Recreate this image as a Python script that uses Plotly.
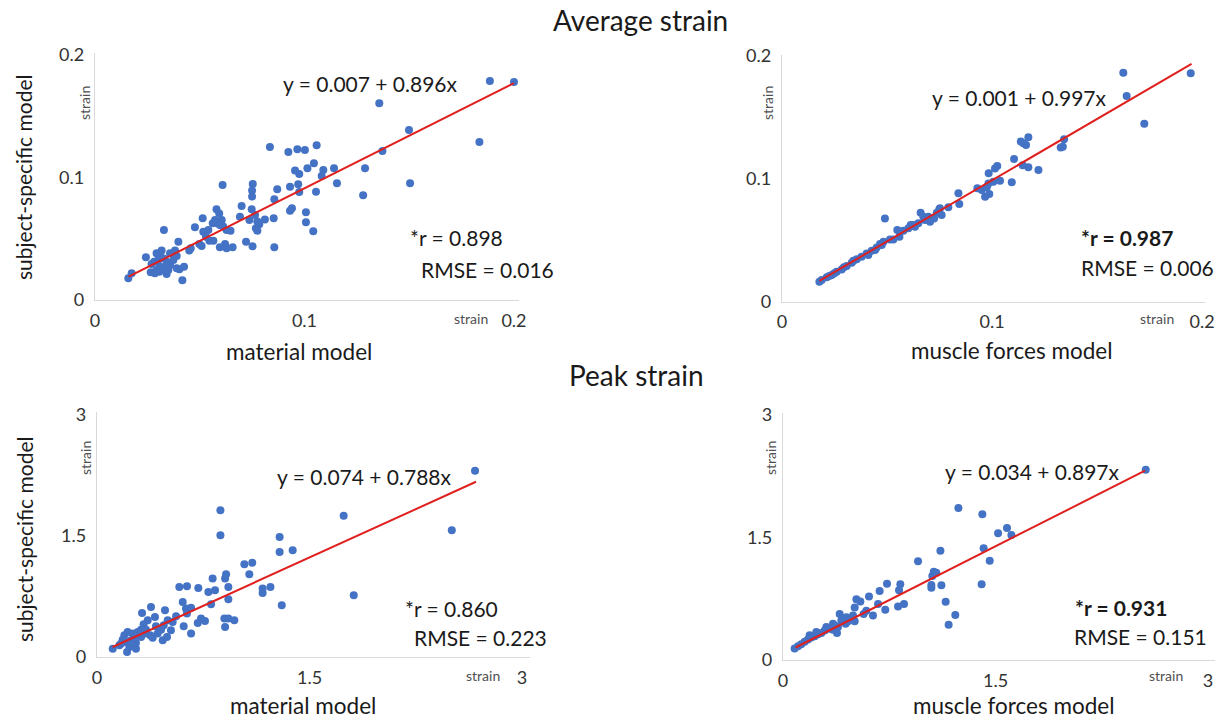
import plotly.graph_objects as go

W, H = 1229, 719

# ---------------- data ----------------
# Panel 1: Average strain, material model (x) vs subject-specific (y)
avg_mat_x = [0.1885, 0.2, 0.1357, 0.1499, 0.1835, 0.1372, 0.1289, 0.1504, 0.128, 0.0835, 0.0923, 0.0966,
             0.1002, 0.1058, 0.0955, 0.0975, 0.1014, 0.1045, 0.109, 0.1082, 0.1141, 0.1155, 0.1055, 0.0931,
             0.097, 0.0975, 0.087, 0.0931, 0.094, 0.1007, 0.1007, 0.1042, 0.0856, 0.0753, 0.075, 0.075, 0.07,
             0.0692, 0.0737, 0.0748, 0.0764, 0.0775, 0.0784, 0.0768, 0.0775, 0.0811, 0.0853, 0.0721, 0.0752,
             0.0856, 0.0609, 0.058, 0.0593, 0.0573, 0.0605, 0.0584, 0.0562, 0.0612, 0.0628, 0.0647, 0.0596,
             0.0541, 0.0517, 0.053, 0.0546, 0.0565, 0.0596, 0.0621, 0.0628, 0.0657, 0.0514, 0.0477, 0.0498,
             0.0509, 0.0457, 0.045, 0.0398, 0.0382, 0.039, 0.0358, 0.0329, 0.0403, 0.039, 0.0425, 0.0417,
             0.0342, 0.0243, 0.027, 0.0266, 0.0294, 0.031, 0.0302, 0.0318, 0.031, 0.0326, 0.0342, 0.0358,
             0.0326, 0.0286, 0.0307, 0.035, 0.0282, 0.0294, 0.0175, 0.0159, 0.0374, 0.0334]
avg_mat_y = [0.1788, 0.178, 0.1605, 0.1388, 0.129, 0.1216, 0.1075, 0.0952, 0.0854, 0.1249, 0.1208, 0.123,
             0.1224, 0.1263, 0.1056, 0.1029, 0.1075, 0.1116, 0.1061, 0.1012, 0.1075, 0.0952, 0.0884, 0.0925,
             0.0944, 0.0882, 0.0903, 0.0729, 0.0748, 0.0716, 0.0634, 0.0561, 0.0822, 0.0947, 0.0893, 0.0844,
             0.0767, 0.068, 0.0653, 0.074, 0.0694, 0.064, 0.0618, 0.0585, 0.0566, 0.0658, 0.0667, 0.0476,
             0.0438, 0.043, 0.0939, 0.074, 0.0707, 0.0653, 0.0653, 0.0626, 0.0626, 0.0599, 0.0571, 0.0566,
             0.0612, 0.0571, 0.0558, 0.0517, 0.0484, 0.0484, 0.043, 0.0457, 0.0422, 0.043, 0.0667, 0.0593,
             0.0457, 0.0441, 0.0422, 0.0403, 0.0476, 0.0403, 0.0359, 0.0381, 0.0571, 0.025, 0.0259, 0.0272,
             0.0161, 0.0212, 0.0348, 0.0294, 0.0226, 0.0245, 0.0272, 0.0327, 0.0403, 0.0367, 0.034, 0.0313,
             0.0286, 0.0245, 0.0218, 0.0231, 0.0245, 0.0313, 0.0381, 0.0218, 0.0177, 0.0327, 0.0272]

# Panel 2: Average strain, muscle forces model (x) vs subject-specific (y)
avg_mus_x = [0.1625, 0.1641, 0.1946, 0.1725, 0.1337, 0.1343, 0.1327, 0.1137, 0.1162, 0.1173, 0.1149, 0.1105,
             0.1146, 0.1173, 0.1221, 0.1094, 0.1025, 0.1014, 0.0984, 0.1038, 0.1006, 0.0983, 0.0975, 0.093,
             0.0951, 0.0987, 0.0967, 0.084, 0.0844, 0.0792, 0.0749, 0.0737, 0.076, 0.0724, 0.0705, 0.066,
             0.0673, 0.0681, 0.0649, 0.0633, 0.0613, 0.0602, 0.0578, 0.0549, 0.0562, 0.049, 0.0559, 0.053,
             0.0483, 0.0467, 0.0451, 0.0427, 0.0403, 0.0379, 0.0356, 0.0332, 0.0308, 0.0284, 0.026, 0.0237,
             0.0213, 0.0189, 0.0178, 0.0443, 0.0411, 0.034, 0.0295, 0.0249, 0.0225, 0.0475, 0.0514, 0.0625,
             0.0697, 0.0752]
avg_mus_y = [0.1864, 0.1674, 0.1859, 0.1449, 0.1262, 0.1322, 0.1256, 0.1303, 0.1275, 0.1338, 0.1289, 0.1161,
             0.111, 0.1094, 0.1072, 0.0972, 0.1104, 0.1085, 0.1045, 0.0985, 0.0977, 0.0963, 0.0931, 0.0923,
             0.0909, 0.0877, 0.0855, 0.0882, 0.0795, 0.0768, 0.0752, 0.0725, 0.0706, 0.0678, 0.0651, 0.0725,
             0.0692, 0.0665, 0.0638, 0.0611, 0.0624, 0.0597, 0.0578, 0.0583, 0.057, 0.0678, 0.0529, 0.0507,
             0.0488, 0.0469, 0.0442, 0.0415, 0.0393, 0.0366, 0.0345, 0.0318, 0.029, 0.0263, 0.0244, 0.0217,
             0.0198, 0.0176, 0.0163, 0.0421, 0.038, 0.0334, 0.028, 0.0231, 0.0209, 0.0461, 0.0507, 0.0624,
             0.0692, 0.076]

# Panel 3: Peak strain, material model (x) vs subject-specific (y)
peak_mat_x = [2.668, 2.504, 1.741, 1.812, 0.871, 0.871, 1.289, 1.289, 1.381, 1.304, 1.04, 1.096, 1.075, 1.169,
              1.224, 1.169, 0.911, 0.904, 0.816, 0.927, 0.927, 0.833, 0.786, 0.715, 0.635, 0.581, 0.605, 0.805,
              0.899, 0.927, 0.969, 0.904, 0.734, 0.762, 0.711, 0.664, 0.628, 0.664, 0.635, 0.612, 0.558, 0.534,
              0.48, 0.499, 0.471, 0.452, 0.428, 0.464, 0.494, 0.522, 0.409, 0.381, 0.318, 0.358, 0.329, 0.311,
              0.346, 0.376, 0.393, 0.311, 0.339, 0.287, 0.252, 0.216, 0.193, 0.181, 0.205, 0.228, 0.275, 0.212,
              0.158, 0.111, 0.24, 0.264, 0.169, 0.416, 0.275]
peak_mat_y = [2.309, 1.572, 1.75, 0.765, 1.82, 1.51, 1.489, 1.303, 1.324, 0.641, 1.15, 1.167, 1.026, 0.848,
              0.869, 0.794, 1.026, 0.972, 0.972, 0.869, 0.716, 0.827, 0.807, 0.856, 0.877, 0.869, 0.683, 0.654,
              0.476, 0.476, 0.455, 0.372, 0.476, 0.447, 0.422, 0.29, 0.6, 0.612, 0.538, 0.381, 0.505, 0.434,
              0.579, 0.455, 0.393, 0.339, 0.29, 0.207, 0.248, 0.331, 0.496, 0.621, 0.546, 0.455, 0.405, 0.339,
              0.339, 0.269, 0.24, 0.248, 0.29, 0.31, 0.29, 0.31, 0.269, 0.215, 0.186, 0.124, 0.103, 0.062,
              0.145, 0.103, 0.207, 0.248, 0.165, 0.381, 0.174]

# Panel 4: Peak strain, muscle forces model (x) vs subject-specific (y)
peak_mus_x = [2.56, 1.238, 1.407, 1.581, 1.518, 1.612, 1.416, 1.459, 1.402, 1.111, 0.953, 1.064, 1.082, 1.054,
              1.047, 1.047, 1.118, 1.148, 1.216, 1.169, 0.828, 0.819, 0.734, 0.682, 0.671, 0.607, 0.518, 0.546,
              0.722, 0.812, 0.854, 0.635, 0.569, 0.588, 0.506, 0.494, 0.506, 0.447, 0.4, 0.412, 0.442, 0.388,
              0.353, 0.381, 0.329, 0.294, 0.271, 0.247, 0.224, 0.2, 0.176, 0.153, 0.129, 0.106, 0.082, 0.306,
              0.235, 0.188, 0.353, 0.459, 0.365]
peak_mus_y = [2.328, 1.861, 1.784, 1.615, 1.551, 1.531, 1.369, 1.216, 0.926, 1.337, 1.208, 1.079, 1.067, 1.027,
              0.918, 0.886, 0.914, 0.713, 0.552, 0.431, 0.926, 0.854, 0.934, 0.846, 0.685, 0.777, 0.745, 0.717,
              0.616, 0.656, 0.685, 0.544, 0.564, 0.604, 0.644, 0.544, 0.475, 0.524, 0.564, 0.483, 0.443, 0.403,
              0.443, 0.33, 0.383, 0.362, 0.33, 0.314, 0.29, 0.274, 0.25, 0.222, 0.193, 0.169, 0.141, 0.403,
              0.342, 0.302, 0.371, 0.475, 0.423]

# Trend lines (visible end points)
trend_avg_mat_x = [0.016, 0.2]
trend_avg_mat_y = [0.019, 0.177]
trend_avg_mus_x = [0.0178, 0.195]
trend_avg_mus_y = [0.017, 0.1935]
trend_peak_mat_x = [0.11, 2.675]
trend_peak_mat_y = [0.124, 2.172]
trend_peak_mus_x = [0.089, 2.555]
trend_peak_mus_y = [0.153, 2.318]

avg_ticks = [0, 0.1, 0.2]
avg_ticktext = ["0", "0.1", "0.2"]
peak_ticks = [0, 1.5, 3]
peak_ticktext = ["0", "1.5", "3"]

equations = ["y = 0.007 + 0.896x", "y = 0.001 + 0.997x", "y = 0.074 + 0.788x", "y = 0.034 + 0.897x"]
r_texts = ["*r = 0.898", "<b>*r = 0.987</b>", "*r = 0.860", "<b>*r = 0.931</b>"]
rmse_texts = ["RMSE = 0.016", "RMSE = 0.006", "RMSE = 0.223", "RMSE = 0.151"]
x_titles = ["material model", "muscle forces model", "material model", "muscle forces model"]
y_title = "subject-specific model"
section_titles = ["Average strain", "Peak strain"]

# ---------------- style ----------------
FONT = "Lato"
BLUE = "#4472C4"
RED = "#E0201E"
AXIS = "#D9D9D9"
TXT = "#1a1a1a"
TICK = "#333333"


def fx(p):
    return p / W


def fy(p):
    return 1 - p / H


fig = go.Figure()

panels = [
    dict(xd=(95, 519), xr=0.2024, yd=(300, 53), yr=0.2016, ticks=avg_ticks, tt=avg_ticktext),
    dict(xd=(782, 1205), xr=0.2014, yd=(301.7, 55), yr=0.2008, ticks=avg_ticks, tt=avg_ticktext),
    dict(xd=(97, 530), xr=3.056, yd=(657, 412), yr=3.037, ticks=peak_ticks, tt=peak_ticktext),
    dict(xd=(783, 1215), xr=3.049, yd=(660, 413), yr=3.024, ticks=peak_ticks, tt=peak_ticktext),
]
series = [(avg_mat_x, avg_mat_y, trend_avg_mat_x, trend_avg_mat_y),
          (avg_mus_x, avg_mus_y, trend_avg_mus_x, trend_avg_mus_y),
          (peak_mat_x, peak_mat_y, trend_peak_mat_x, trend_peak_mat_y),
          (peak_mus_x, peak_mus_y, trend_peak_mus_x, trend_peak_mus_y)]

for i, (p, s) in enumerate(zip(panels, series)):
    n = "" if i == 0 else str(i + 1)
    xa, ya = "x" + n, "y" + n
    fig.add_trace(go.Scatter(x=s[0], y=s[1], mode="markers", xaxis=xa, yaxis=ya,
                             marker=dict(color=BLUE, size=8, line=dict(width=0)),
                             showlegend=False, hoverinfo="x+y"))
    fig.add_trace(go.Scatter(x=s[2], y=s[3], mode="lines", xaxis=xa, yaxis=ya,
                             line=dict(color=RED, width=2), showlegend=False, hoverinfo="skip"))
    common = dict(showgrid=False, zeroline=False, showline=True, linecolor=AXIS, linewidth=1.3,
                  ticks="", tickfont=dict(family=FONT, size=18, color=TICK), fixedrange=True,
                  automargin=False)
    fig.layout["xaxis" + n] = dict(domain=[fx(p["xd"][0]), fx(p["xd"][1])], range=[0, p["xr"]],
                                   anchor=ya, tickvals=p["ticks"], ticktext=p["tt"],
                                   ticklabelstandoff=4, **common)
    fig.layout["yaxis" + n] = dict(domain=[fy(p["yd"][0]), fy(p["yd"][1])], range=[0, p["yr"]],
                                   anchor=xa, tickvals=p["ticks"], ticktext=p["tt"],
                                   ticklabelstandoff=6, **common)

ann = []


def add_text(text, x, y, size, color=TXT, angle=0, xanchor="center"):
    ann.append(dict(text=text, x=fx(x), y=fy(y), xref="paper", yref="paper", showarrow=False,
                    xanchor=xanchor, yanchor="middle", textangle=angle,
                    font=dict(family=FONT, size=size, color=color)))


add_text(section_titles[0], 640, 20, 28)
add_text(section_titles[1], 636, 375, 28)

eq_pos = [(370, 83), (1020, 97), (365, 477), (1032, 471)]
r_pos = [(408, 238), (1079, 237), (403, 608), (1073, 607)]
rmse_pos = [(419, 269), (1079, 267), (412, 637), (1072, 636)]
for i in range(4):
    add_text(equations[i], *eq_pos[i], 21)
    add_text(r_texts[i], *r_pos[i], 21, xanchor="left")
    add_text(rmse_texts[i], *rmse_pos[i], 21, xanchor="left")

strain_y = [(85, 103), (768, 103), (85, 458), (770, 458)]
strain_x = [(471, 318), (1157, 318), (483, 675), (1166, 675)]
for (x, y) in strain_y:
    add_text("strain", x, y, 14, color="#505050", angle=-90)
for (x, y) in strain_x:
    add_text("strain", x, y, 14, color="#505050")

add_text(y_title, 24, 178, 21, angle=-90)
add_text(y_title, 24, 540, 21, angle=-90)
xt_pos = [(299, 352), (1011, 350), (303, 705), (1013, 705)]
for i in range(4):
    add_text(x_titles[i], *xt_pos[i], 22.5)

fig.update_layout(width=W, height=H, margin=dict(l=0, r=0, t=0, b=0, autoexpand=False),
                  paper_bgcolor="white", plot_bgcolor="white", annotations=ann,
                  font=dict(family=FONT))

fig.write_html("out.html", config={"displayModeBar": False},
               post_script="document.body.style.margin='0';document.body.style.overflow='hidden';")
